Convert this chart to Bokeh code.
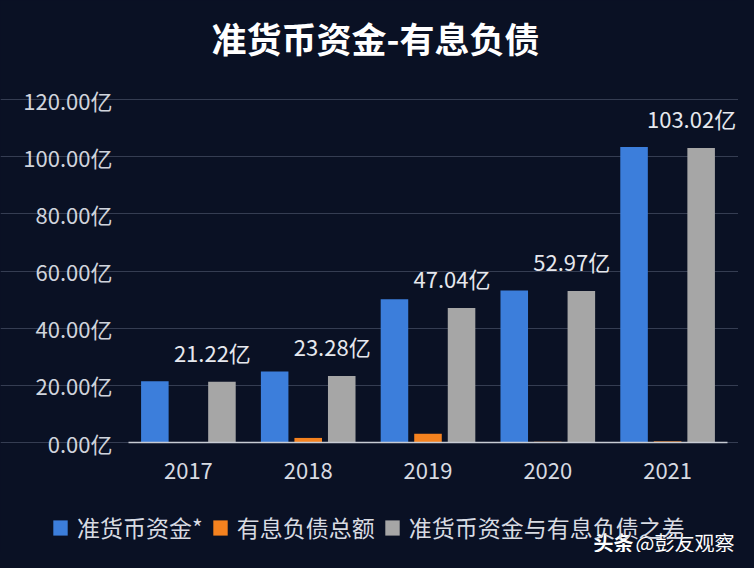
from bokeh.plotting import figure
from bokeh.models import ColumnDataSource, FixedTicker, Legend, LegendItem, Range1d, Label
from bokeh.core.properties import value
from bokeh.embed import file_html
from bokeh.resources import INLINE

years = ["2017", "2018", "2019", "2020", "2021"]
cash = [21.42, 24.88, 50.10, 53.22, 103.42]
debt = [0.20, 1.60, 3.06, 0.25, 0.40]
diff = [21.22, 23.28, 47.04, 52.97, 103.02]
diff_labels = ["21.22亿", "23.28亿", "47.04亿", "52.97亿", "103.02亿"]
y_ticks = [0, 20, 40, 60, 80, 100, 120]
y_tick_labels = ["0.00亿", "20.00亿", "40.00亿", "60.00亿", "80.00亿", "100.00亿", "120.00亿"]
series_names = ["准货币资金*", "有息负债总额", "准货币资金与有息负债之差"]
title_text = "准货币资金-有息负债"
watermark = ["头条", "@彭友观察"]

BG = "#0a1124"
FONT = "Noto Sans CJK SC"
BLUE = "#3c7edb"
ORANGE = "#f5821f"
GRAY = "#a6a6a6"

W, H = 738, 552
n = len(years)
xc = [i + 0.5 for i in range(n)]
src = ColumnDataSource(dict(
    xb=[v - 0.28 for v in xc], xo=xc, xg=[v + 0.28 for v in xc], xl=[v + 0.2 for v in xc],
    cash=cash, debt=debt, diff=diff, lab=diff_labels))

# frame covers the whole canvas; axes are pinned at x=0 / y=0
px_per_cat = 119.8
px_per_unit = 343 / 120.0
x0_px, y0_px = 128, 442
x_range = Range1d(-x0_px / px_per_cat, (W - x0_px) / px_per_cat)
y_range = Range1d(-(H - y0_px) / px_per_unit, y0_px / px_per_unit)

p = figure(width=W, height=H, x_range=x_range, y_range=y_range,
           output_backend="svg", toolbar_location=None,
           min_border_left=0, min_border_right=0, min_border_top=0, min_border_bottom=0)
p.title = None
p.background_fill_color = BG
p.border_fill_color = BG
p.outline_line_color = None

r1 = p.vbar(x="xb", top="cash", width=0.23, source=src, fill_color=BLUE, line_color=None)
r2 = p.vbar(x="xo", top="debt", width=0.23, source=src, fill_color=ORANGE, line_color=None)
r3 = p.vbar(x="xg", top="diff", width=0.23, source=src, fill_color=GRAY, line_color=None)

p.text(x="xl", y="diff", text="lab", source=src,
       text_font=value(FONT), text_font_size="22px", text_color="#e6e8ee",
       text_align="center", text_baseline="middle", y_offset=-30)

# axes
p.yaxis.fixed_location = 0
p.yaxis.ticker = FixedTicker(ticks=y_ticks)
p.yaxis.major_label_overrides = {t: l for t, l in zip(y_ticks, y_tick_labels)}
p.yaxis.axis_line_color = None
p.yaxis.major_tick_line_color = None
p.yaxis.minor_tick_line_color = None
p.yaxis.major_label_standoff = 10
p.yaxis.major_label_text_font = FONT
p.yaxis.major_label_text_font_size = "22px"
p.yaxis.major_label_text_color = "#d0d4dc"

p.xaxis.fixed_location = 0
p.xaxis.ticker = FixedTicker(ticks=xc)
p.xaxis.major_label_overrides = {x: y for x, y in zip(xc, years)}
p.xaxis.bounds = (0, n)
p.xaxis.axis_line_color = "#c8ccd4"
p.xaxis.axis_line_width = 1.5
p.xaxis.major_tick_line_color = None
p.xaxis.minor_tick_line_color = None
p.xaxis.major_label_standoff = 14
p.xaxis.major_label_text_font = FONT
p.xaxis.major_label_text_font_size = "22px"
p.xaxis.major_label_text_color = "#d8dbe2"

p.xgrid.grid_line_color = None
p.ygrid.grid_line_color = "#353d52"
p.ygrid.grid_line_width = 1.2
p.ygrid.bounds = (0, n)

# title
p.add_layout(Label(x=375, y=H - 37, x_units="screen", y_units="screen", text=title_text,
                   text_font=FONT, text_font_size="35px", text_font_style="bold",
                   text_color="#ffffff", text_align="center", text_baseline="middle"))

# legend
legend = Legend(items=[LegendItem(label=series_names[0], renderers=[r1]),
                       LegendItem(label=series_names[1], renderers=[r2]),
                       LegendItem(label=series_names[2], renderers=[r3])],
                location=(51, 8), orientation="horizontal",
                glyph_width=18, glyph_height=19, label_standoff=8, spacing=8,
                padding=0, margin=0, border_line_color=None, background_fill_alpha=0,
                label_text_font=FONT, label_text_font_size="23px", label_text_color="#d8dbe2")
p.add_layout(legend, "center")

# watermark
p.add_layout(Label(x=593, y=H - 542, x_units="screen", y_units="screen", text=watermark[0],
                   text_font=FONT, text_font_size="20px", text_font_style="bold",
                   text_color="#ffffff", text_baseline="middle"))
p.add_layout(Label(x=635, y=H - 542, x_units="screen", y_units="screen", text=watermark[1],
                   text_font=FONT, text_font_size="20px",
                   text_color="#ffffff", text_baseline="middle"))

html = file_html(p, INLINE)
html = html.replace("<head>", "<head><style>html,body{background:%s;}</style>" % BG, 1)
open("out.html", "w").write(html)
